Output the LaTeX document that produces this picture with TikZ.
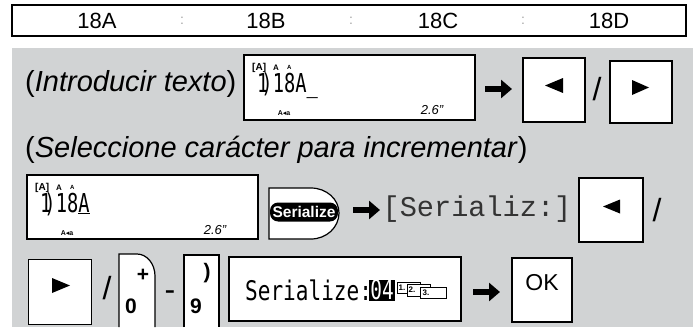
\documentclass[tikz,border=0pt]{standalone}
\usepackage{fontspec}
\setmainfont{Liberation Sans}
\newfontfamily\lcdfont[FakeStretch=0.72]{DejaVu Sans Mono}
\newfontfamily\widelcdfont[FakeStretch=0.78]{DejaVu Sans Mono}
\newfontfamily\courfont{Liberation Mono}
\newfontfamily\symfont{DejaVu Sans}
\usetikzlibrary{arrows.meta}
\definecolor{panelgray}{RGB}{209,211,212}

\tikzset{
  lcd/.style={draw, line width=1.6pt, fill=white, inner sep=0pt},
  keybox/.style={draw, line width=1.2pt, fill=white, inner sep=0pt},
  fatarrow/.style={line width=6pt, -{Triangle[length=11pt,width=18pt]}},
  bigtext/.style={font=\fontsize{29}{29}\selectfont, inner sep=0pt, anchor=base west},
  sepmark/.style={font=\fontsize{32}{32}\selectfont, inner sep=0pt},
  keylabel/.style={font=\bfseries\fontsize{21}{21}\selectfont, inner sep=0pt},
  chip/.style={draw, line width=0.7pt, fill=white},
  chiptext/.style={font=\bfseries\fontsize{8}{8}\selectfont, inner sep=0pt},
}

% screen contents, placed from the top left corner of the display
\newcommand{\lcdscreen}[2]{%
  \node[anchor=base west, inner sep=0pt, font=\bfseries\fontsize{10}{10}\selectfont] (#1-br) at (8,15) {[A]};
  \node[anchor=base west, inner sep=0pt, font=\bfseries\fontsize{8}{8}\selectfont] (#1-a) at (29,15) {A};
  \node[anchor=base west, inner sep=0pt, font=\bfseries\fontsize{6}{6}\selectfont] (#1-sa) at (43,14) {A};
  \node[anchor=base west, inner sep=0pt, font=\lcdfont\fontsize{26}{26}\selectfont] (#1-txt) at (13,37) {#2};
  \node[inner sep=0pt, font=\bfseries\fontsize{7}{7}\selectfont] (#1-case) at (40,58) {A{\symfont ◂}a};
  \node[inner sep=0pt, font=\itshape\fontsize{13}{13}\selectfont] (#1-len) at (188,55) {2.6"};
}

\begin{document}
\begin{tikzpicture}[x=1pt,y=-1pt]
  \useasboundingbox (0,0) rectangle (693,327);

  % sequence strip
  \draw[line width=1.5pt, fill=white] (12,5) rectangle (686,36);
  \foreach \x/\t in {97/18A,266/18B,438/18C,609/18D}
    \node[font=\fontsize{22}{22}\selectfont, inner sep=0pt] (seq-\t) at (\x,21) {\t};
  \foreach \x in {182,351,523}
    \node[font=\fontsize{14}{14}\selectfont, text=black!35, inner sep=0pt] (colon-\x) at (\x,21) {:};

  \fill[panelgray] (12,48) rectangle (693,327);

  % row 1
  \node[bigtext] (intro) at (25,91) {(\textit{Introducir texto})};
  \node[lcd, minimum width=231pt, minimum height=65pt] (lcd1) at (359.5,87.5) {};
  \begin{scope}[shift={(244,55)}]
    \lcdscreen{lcd1}{1\kern-7pt)18A\_}
  \end{scope}
  \coordinate (a1s) at (485,89);
  \coordinate (a1e) at (512,89);
  \draw[fatarrow] (a1s) -- (a1e);
  \node[keybox, minimum width=62pt, minimum height=64pt] (kl1) at (554,90) {};
  \fill ([shift={(-9,-4.5)}]kl1.center) -- ++(18,-7.5) -- ++(0,15) -- cycle;
  \node[sepmark] (sl1) at (597,89) {/};
  \node[keybox, minimum width=62pt, minimum height=62pt] (kr1) at (641,92) {};
  \fill ([shift={(8,-4.5)}]kr1.center) -- ++(-17,-7.5) -- ++(0,15) -- cycle;

  % row 2
  \node[bigtext] (select) at (25,157) {(\textit{Seleccione carácter para incrementar})};

  % row 3
  \node[lcd, minimum width=231pt, minimum height=64pt] (lcd2) at (142.5,207) {};
  \begin{scope}[shift={(27,175)}]
    \lcdscreen{lcd2}{1\kern-7pt)18\underline{A}}
  \end{scope}
  \filldraw[line width=1.2pt, fill=white] (269,239) -- (269,188) -- (311,188)
    arc[start angle=90, end angle=0, x radius=28pt, y radius=25pt]
    arc[start angle=0, end angle=-90, x radius=28pt, y radius=26pt] -- cycle;
  \node[fill=black, text=white, rounded corners=8pt, inner xsep=2.5pt, minimum height=19pt,
        font=\bfseries\fontsize{15.5}{15.5}\selectfont] (serkey) at (304,212) {Serialize};
  \coordinate (a2s) at (353,210);
  \coordinate (a2e) at (380,210);
  \draw[fatarrow] (a2s) -- (a2e);
  \node[font=\courfont\fontsize{28.6}{28.6}\selectfont, text=black!80, inner sep=0pt] (sermsg) at (477,209) {[Serializ:]};
  \node[keybox, minimum width=64pt, minimum height=64pt] (kl2) at (611,210) {};
  \fill ([shift={(-8,-3.5)}]kl2.center) -- ++(17,-7) -- ++(0,14) -- cycle;
  \node[sepmark] (sl2) at (657,210) {/};

  % row 4
  \node[keybox, minimum width=63pt, minimum height=65pt] (kr3) at (60,292) {};
  \fill ([shift={(10,-6.5)}]kr3.center) -- ++(-18,-7.5) -- ++(0,15) -- cycle;
  \node[sepmark] (sl3) at (107,288) {/};
  \fill[white] (119,327) -- (119,254) -- (137,254)
    arc[start angle=90, end angle=0, x radius=18pt, y radius=22pt] -- (155,327) -- cycle;
  \draw[line width=1.2pt] (119,327) -- (119,254) -- (137,254)
    arc[start angle=90, end angle=0, x radius=18pt, y radius=22pt] -- (155,327);
  \node[keylabel] (plus) at (143,275) {+};
  \node[keylabel] (zero) at (131,306) {0};
  \node[sepmark] (dash) at (170,296) {-};
  \fill[white] (184,327) rectangle (219,255);
  \draw[line width=1.2pt] (184,327) -- (184,255) -- (219,255) -- (219,327);
  \node[keylabel] (paren) at (207,273) {)};
  \node[keylabel] (nine) at (196,306) {9};

  \node[lcd, minimum width=232pt, minimum height=64pt] (lcd3) at (345,289) {};
  \node[anchor=base west, inner sep=0pt, font=\widelcdfont\fontsize{27}{27}\selectfont] (sertxt) at (245,300) {Serialize:};
  \node[fill=black, text=white, inner sep=0pt, minimum width=26pt, minimum height=21pt,
        font=\lcdfont\fontsize{27}{27}\selectfont] (inv) at (382,290) {04};
  \draw[chip] (397,282) rectangle (420,293);
  \node[chiptext] (c1) at (402,288) {1.};
  \draw[chip] (407,284) rectangle (430,296);
  \node[chiptext] (c2) at (412,290) {2.};
  \draw[chip] (420,287) rectangle (446,298);
  \node[chiptext] (c3) at (426,293) {3.};
  \coordinate (a3s) at (473,292);
  \coordinate (a3e) at (500,292);
  \draw[fatarrow] (a3s) -- (a3e);
  \node[keybox, minimum width=60pt, minimum height=64pt] (ok) at (542,290) {};
  \node[font=\fontsize{23}{23}\selectfont, inner sep=0pt] (oktxt) at (542,283) {OK};
\end{tikzpicture}
\end{document}
